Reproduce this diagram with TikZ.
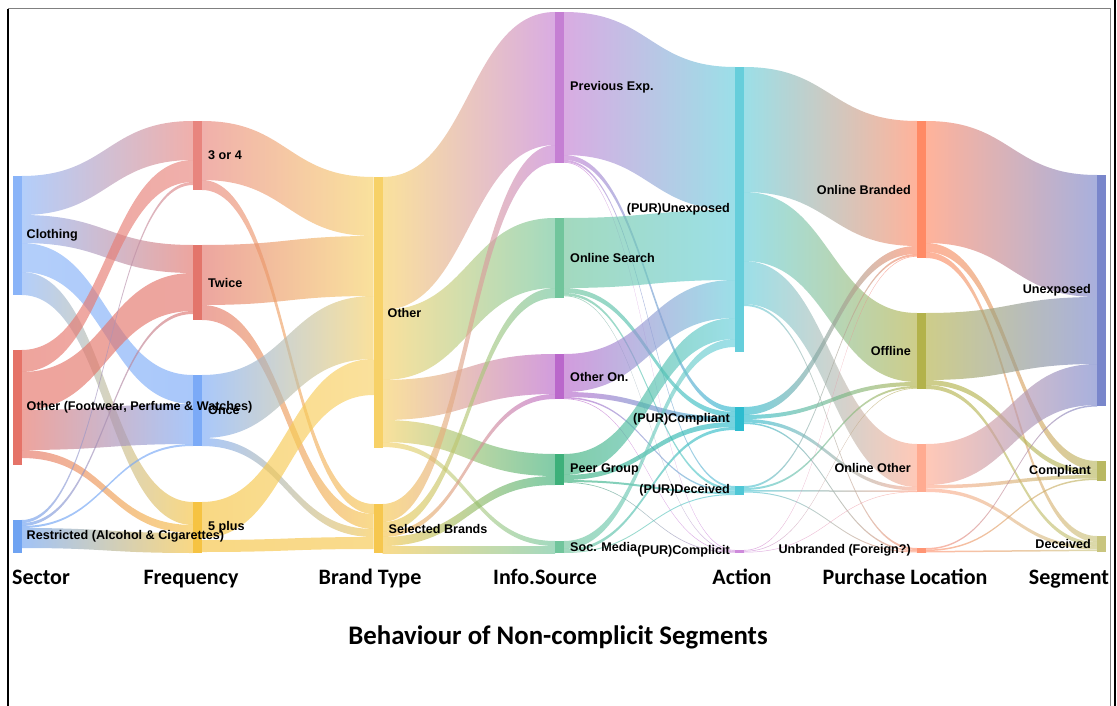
\documentclass[tikz,border=0pt]{standalone}
\usepackage{fontspec}
\setmainfont{Liberation Sans}
\newfontfamily\axisfont{Carlito}
\usetikzlibrary{positioning,calc}

% node colours (c + node name)
\definecolor{cclothing}{HTML}{8AB4F8}
\definecolor{cothersec}{HTML}{E57368}
\definecolor{crestricted}{HTML}{6FA3F2}
\definecolor{cthree}{HTML}{E8857E}
\definecolor{ctwice}{HTML}{E3756B}
\definecolor{conce}{HTML}{7BAAF7}
\definecolor{cfiveplus}{HTML}{F6C342}
\definecolor{cotherbrand}{HTML}{F7D167}
\definecolor{cselected}{HTML}{F6C74F}
\definecolor{cprevexp}{HTML}{C57FD3}
\definecolor{csearch}{HTML}{71C59C}
\definecolor{cotheron}{HTML}{BA67CB}
\definecolor{cpeer}{HTML}{3DB07A}
\definecolor{csocmedia}{HTML}{71C59C}
\definecolor{cunexp}{HTML}{66CEDB}
\definecolor{ccompl}{HTML}{2DBCCF}
\definecolor{cdec}{HTML}{4FC7D6}
\definecolor{ccomplicit}{HTML}{CE8ADB}
\definecolor{cbranded}{HTML}{FF8A65}
\definecolor{coffline}{HTML}{B3B24B}
\definecolor{conother}{HTML}{FFAB91}
\definecolor{cunbranded}{HTML}{FF9473}
\definecolor{csegunexp}{HTML}{7986CB}
\definecolor{csegcompl}{HTML}{B9B863}
\definecolor{csegdec}{HTML}{C9C57F}

% band: source, offset in source, target, offset in target, width
\newcommand{\flowband}[5]{%
  \shade[left color=c#1, right color=c#3, fill opacity=.65]
    let \p1=($(#1.north east)+(0,#2)$), \p2=($(#3.north west)+(0,#4)$),
        \p3=($(#1.north east)+(0,#2+#5)$), \p4=($(#3.north west)+(0,#4+#5)$),
        \n1={(\x1+\x2)/2} in
    (\p1) .. controls (\n1,\y1) and (\n1,\y2) .. (\p2)
    -- (\p4) .. controls (\n1,\y4) and (\n1,\y3) .. (\p3) -- cycle;
}

\begin{document}
\begin{tikzpicture}[x=1pt,y=-1pt,
    bar/.style={rectangle,minimum width=9pt,inner sep=0pt,outer sep=0pt},
    lbl/.style={font=\bfseries\fontsize{12.6}{14}\selectfont,inner sep=0pt},
    axis/.style={font=\axisfont\bfseries\fontsize{22}{25}\selectfont,inner sep=0pt,anchor=base}]
  \useasboundingbox (0,0) rectangle (1117,706);

  % nodes
  \node[bar,fill=cclothing,minimum height=119pt] (clothing) at (17,235.5) {};
  \node[bar,fill=cothersec,minimum height=115pt] (othersec) at (17,407.5) {};
  \node[bar,fill=crestricted,minimum height=33pt] (restricted) at (17,536.5) {};

  \node[bar,fill=cthree,minimum height=69pt] (three) at (197.5,155.5) {};
  \node[bar,fill=ctwice,minimum height=75pt] (twice) at (197.5,282.5) {};
  \node[bar,fill=conce,minimum height=71pt] (once) at (197.5,410.5) {};
  \node[bar,fill=cfiveplus,minimum height=51pt] (fiveplus) at (197.5,527.5) {};

  \node[bar,fill=cotherbrand,minimum height=271pt] (otherbrand) at (378,312.5) {};
  \node[bar,fill=cselected,minimum height=49pt] (selected) at (378,528.5) {};

  \node[bar,fill=cprevexp,minimum height=151pt] (prevexp) at (559.5,87.5) {};
  \node[bar,fill=csearch,minimum height=80pt] (search) at (559.5,258) {};
  \node[bar,fill=cotheron,minimum height=45pt] (otheron) at (559.5,376.5) {};
  \node[bar,fill=cpeer,minimum height=31pt] (peer) at (559.5,469.5) {};
  \node[bar,fill=csocmedia,minimum height=12pt] (socmedia) at (559.5,547) {};

  \node[bar,fill=cunexp,minimum height=285pt] (unexp) at (739.5,209.5) {};
  \node[bar,fill=ccompl,minimum height=24pt] (compl) at (739.5,419) {};
  \node[bar,fill=cdec,minimum height=9pt] (dec) at (739.5,490.5) {};
  \node[bar,fill=ccomplicit,minimum height=3pt] (complicit) at (739.5,551.5) {};

  \node[bar,fill=cbranded,minimum height=137pt] (branded) at (921.5,189.5) {};
  \node[bar,fill=coffline,minimum height=76pt] (offline) at (921.5,351) {};
  \node[bar,fill=conother,minimum height=48pt] (onother) at (921.5,468) {};
  \node[bar,fill=cunbranded,minimum height=5pt] (unbranded) at (921.5,550.5) {};

  \node[bar,fill=csegunexp,minimum height=231pt] (segunexp) at (1101.5,290.5) {};
  \node[bar,fill=csegcompl,minimum height=20pt] (segcompl) at (1101.5,471) {};
  \node[bar,fill=csegdec,minimum height=16pt] (segdec) at (1101.5,544) {};

  % sector -> frequency
  \flowband{clothing}{0}{three}{0}{39}
  \flowband{clothing}{39}{twice}{0}{28}
  \flowband{clothing}{67}{once}{0}{29}
  \flowband{clothing}{96}{fiveplus}{0}{23}
  \flowband{othersec}{0}{three}{39}{22}
  \flowband{othersec}{22}{twice}{28}{38}
  \flowband{othersec}{60}{once}{29}{40}
  \flowband{othersec}{100}{fiveplus}{23}{8}
  \flowband{restricted}{0}{three}{61}{3}
  \flowband{restricted}{3}{twice}{66}{3}
  \flowband{restricted}{6}{once}{69}{2}
  \flowband{restricted}{8}{fiveplus}{31}{20}

  % frequency -> brand type
  \flowband{three}{0}{otherbrand}{0}{59}
  \flowband{three}{59}{selected}{0}{10}
  \flowband{twice}{0}{otherbrand}{59}{60}
  \flowband{twice}{60}{selected}{10}{15}
  \flowband{once}{0}{otherbrand}{119}{63}
  \flowband{once}{63}{selected}{25}{8}
  \flowband{fiveplus}{0}{otherbrand}{182}{36}
  \flowband{fiveplus}{38}{selected}{33}{12}

  % brand type -> info.source
  \flowband{otherbrand}{0}{prevexp}{0}{133}
  \flowband{otherbrand}{133}{search}{0}{70}
  \flowband{otherbrand}{203}{otheron}{0}{40}
  \flowband{otherbrand}{243}{peer}{0}{22}
  \flowband{otherbrand}{265}{socmedia}{0}{5}
  \flowband{selected}{0}{prevexp}{133}{18}
  \flowband{selected}{18}{search}{70}{10}
  \flowband{selected}{28}{otheron}{40}{5}
  \flowband{selected}{33}{peer}{22}{9}
  \flowband{selected}{42}{socmedia}{5}{7}

  % info.source -> action
  \flowband{prevexp}{0}{unexp}{0}{143}
  \flowband{prevexp}{143}{compl}{0}{5}
  \flowband{prevexp}{148}{dec}{0}{2}
  \flowband{prevexp}{150}{complicit}{0}{0.7}
  \flowband{search}{0}{unexp}{143}{70}
  \flowband{search}{70}{compl}{5}{5}
  \flowband{search}{75}{dec}{2}{2.5}
  \flowband{search}{77.5}{complicit}{0.7}{0.7}
  \flowband{otheron}{0}{unexp}{213}{38}
  \flowband{otheron}{38}{compl}{10}{5}
  \flowband{otheron}{43}{dec}{4.5}{1.5}
  \flowband{otheron}{44.5}{complicit}{1.4}{0.6}
  \flowband{peer}{0}{unexp}{251}{21}
  \flowband{peer}{21}{compl}{15}{5}
  \flowband{peer}{26}{dec}{6}{2}
  \flowband{peer}{28}{complicit}{2}{0.7}
  \flowband{socmedia}{0}{unexp}{272}{8}
  \flowband{socmedia}{8}{compl}{20}{3}
  \flowband{socmedia}{11}{dec}{8}{1}

  % action -> purchase location
  \flowband{unexp}{0}{branded}{0}{125}
  \flowband{unexp}{125}{offline}{0}{69}
  \flowband{unexp}{194}{onother}{0}{43}
  \flowband{unexp}{237}{unbranded}{0}{2}
  \flowband{compl}{0}{branded}{125}{8}
  \flowband{compl}{8}{offline}{69}{4}
  \flowband{compl}{12}{onother}{43}{3.5}
  \flowband{compl}{15.5}{unbranded}{2}{1.5}
  \flowband{dec}{0}{branded}{133}{2}
  \flowband{dec}{2}{offline}{73}{2}
  \flowband{dec}{4}{onother}{46.5}{1.5}
  \flowband{dec}{5.5}{unbranded}{3.5}{1}
  \flowband{complicit}{0}{branded}{135}{0.6}
  \flowband{complicit}{1}{offline}{75}{0.6}
  \flowband{complicit}{2}{onother}{47.5}{0.5}

  % purchase location -> segment
  \flowband{branded}{0}{segunexp}{0}{122}
  \flowband{branded}{122}{segcompl}{0}{9}
  \flowband{branded}{131}{segdec}{0}{6}
  \flowband{offline}{0}{segunexp}{122}{67}
  \flowband{offline}{67}{segcompl}{9}{5}
  \flowband{offline}{72}{segdec}{6}{4}
  \flowband{onother}{0}{segunexp}{189}{41}
  \flowband{onother}{41}{segcompl}{14}{3.5}
  \flowband{onother}{44.5}{segdec}{10}{3.5}
  \flowband{unbranded}{0}{segunexp}{230}{1.5}
  \flowband{unbranded}{1.5}{segcompl}{17.5}{1.5}
  \flowband{unbranded}{3}{segdec}{13.5}{1.5}

  % labels
  \node[lbl,right=5pt of clothing] (clothinglbl) {Clothing};
  \node[lbl,right=5pt of othersec] (otherseclbl) {Other (Footwear, Perfume \& Watches)};
  \node[lbl,right=5pt of restricted] (restrictedlbl) {Restricted (Alcohol \& Cigarettes)};
  \node[lbl,right=6pt of three] (threelbl) {3 or 4};
  \node[lbl,right=6pt of twice] (twicelbl) {Twice};
  \node[lbl,right=6pt of once] (oncelbl) {Once};
  \node[lbl,right=6pt of fiveplus] (fivepluslbl) {5 plus};
  \node[lbl,right=5pt of otherbrand] (otherbrandlbl) {Other};
  \node[lbl,right=6pt of selected] (selectedlbl) {Selected Brands};
  \node[lbl,right=6pt of prevexp] (prevexplbl) {Previous Exp.};
  \node[lbl,right=6pt of search] (searchlbl) {Online Search};
  \node[lbl,right=6pt of otheron] (otheronlbl) {Other On.};
  \node[lbl,right=6pt of peer] (peerlbl) {Peer Group};
  \node[lbl,right=6pt of socmedia] (socmedialbl) {Soc. Media};
  \node[lbl,left=5pt of unexp] (unexplbl) {(PUR)Unexposed};
  \node[lbl,left=5pt of compl] (compllbl) {(PUR)Compliant};
  \node[lbl,left=5pt of dec] (declbl) {(PUR)Deceived};
  \node[lbl,left=5pt of complicit] (complicitlbl) {(PUR)Complicit};
  \node[lbl,left=6pt of branded] (brandedlbl) {Online Branded};
  \node[lbl,left=6pt of offline] (offlinelbl) {Offline};
  \node[lbl,left=6pt of onother] (onotherlbl) {Online Other};
  \node[lbl,left=6pt of unbranded] (unbrandedlbl) {Unbranded (Foreign?)};
  \node[lbl,left=6pt of segunexp] (segunexplbl) {Unexposed};
  \node[lbl,left=6pt of segcompl] (segcompllbl) {Compliant};
  \node[lbl,left=6pt of segdec] (segdeclbl) {Deceived};

  % column titles
  \node[axis] (sectorax) at (41,584) {Sector};
  \node[axis] (freqax) at (191,584) {Frequency};
  \node[axis] (brandax) at (370,584) {Brand Type};
  \node[axis] (infoax) at (545,584) {Info.Source};
  \node[axis] (actionax) at (742,584) {Action};
  \node[axis] (purchaseax) at (905,584) {Purchase Location};
  \node[axis] (segmentax) at (1069,584) {Segment};
  \node[axis,font=\axisfont\bfseries\fontsize{26.8}{30}\selectfont] (title) at (558,644) {Behaviour of Non-complicit Segments};

  % frame
  \draw[gray,line width=1pt] (8,9) -- (1110,9) -- (1110,706);
  \draw[line width=1.5pt] (8,9) -- (8,706);
  \draw[line width=1.5pt] (1115,0) -- (1115,706);
\end{tikzpicture}
\end{document}
